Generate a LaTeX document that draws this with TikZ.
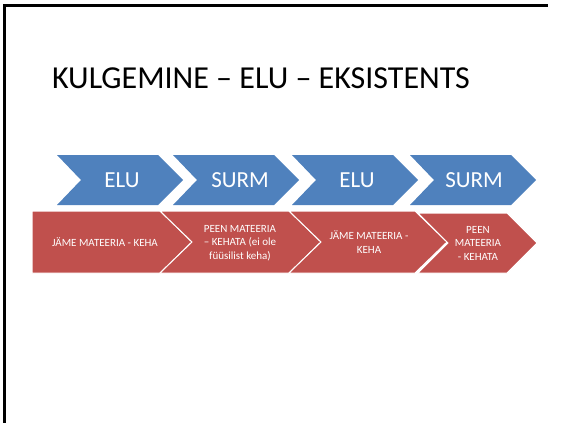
\documentclass[tikz,border=0pt]{standalone}
\usepackage{fontspec}
\setmainfont{Carlito}
\definecolor{chevblue}{HTML}{4F81BD}
\definecolor{chevred}{HTML}{C0504D}

\begin{document}
\begin{tikzpicture}[
    x=1pt, y=-1pt,
    frameline/.style={fill=black, draw=none},
    bluechev/.style={fill=chevblue, draw=none},
    redchev/.style={fill=chevred, draw=white, line width=1pt, line join=miter},
    bigtext/.style={text=white, font=\fontsize{23}{26}\selectfont, inner sep=0pt},
    smalltext/.style={text=white, font=\fontsize{11}{13.5}\selectfont, align=center, inner sep=0pt}
    ]
    \useasboundingbox (0,0) rectangle (563,423);
    % frame
    \fill[frameline] (2.8,4.2) rectangle (5.8,423);
    \fill[frameline] (2.8,4.2) rectangle (548,7.2);
    \node[font=\fontsize{32}{36}\selectfont, inner sep=0pt] (title) at (261,78) {KULGEMINE – ELU – EKSISTENTS};
    % upper row
    \foreach \x in {57,173,292,410}
      \fill[bluechev] (\x,155) -- ++(101,0) -- ++(25,25) -- ++(-25,25) -- ++(-101,0) -- ++(24,-25) -- cycle;
    \node[bigtext] (elua) at (122,180) {ELU};
    \node[bigtext] (surma) at (240,180) {SURM};
    \node[bigtext] (elub) at (357,180) {ELU};
    \node[bigtext] (surmb) at (474,180) {SURM};
    % lower row
    \filldraw[redchev] (32,211) -- (160,211) -- (192,242) -- (160,273) -- (32,273) -- cycle;
    \filldraw[redchev] (160,211) -- (289,211) -- (321,242) -- (289,273) -- (160,273) -- (192,242) -- cycle;
    \filldraw[redchev] (289,211) -- (415,211) -- (447,242) -- (415,273) -- (289,273) -- (321,242) -- cycle;
    \filldraw[redchev] (418,213) -- (507,213) -- (537,243) -- (507,273) -- (418,273) -- (448,243) -- cycle;
    \node[smalltext] (jamea) at (105,242) {JÄME MATEERIA - KEHA};
    \node[smalltext] (peena) at (240,243) {PEEN MATEERIA\\– KEHATA (ei ole\\füüsilist keha)};
    \node[smalltext] (jameb) at (369,242) {JÄME MATEERIA -\\KEHA};
    \node[smalltext] (peenb) at (478,243) {PEEN\\MATEERIA\\- KEHATA};
  \end{tikzpicture}
\end{document}
